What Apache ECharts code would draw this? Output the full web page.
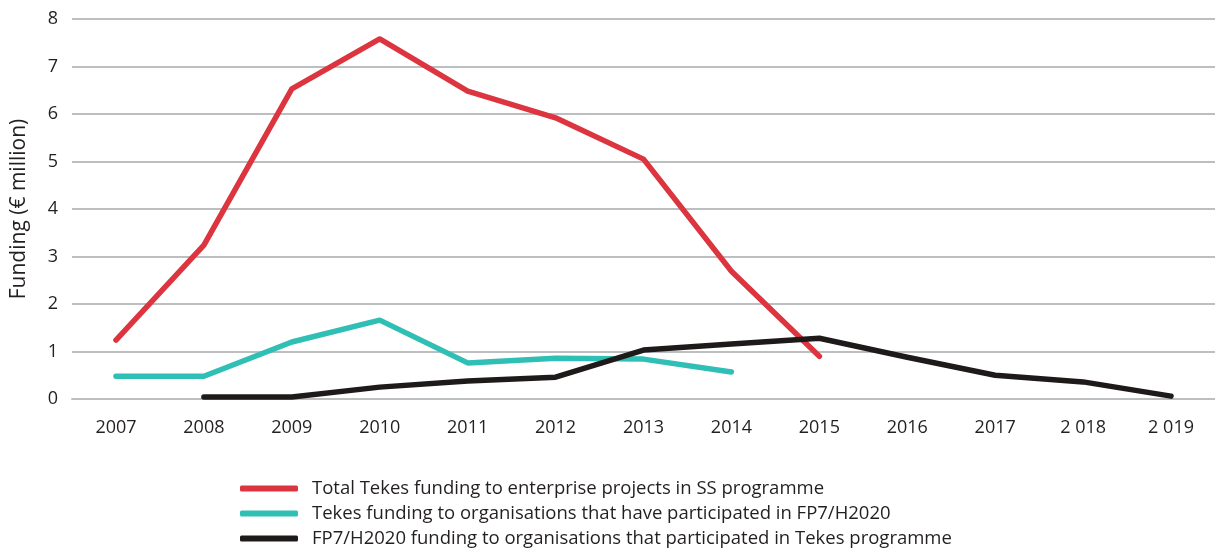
<!DOCTYPE html>
<html><head><meta charset="utf-8">
<script src="https://cdn.jsdelivr.net/npm/echarts@6/dist/echarts.min.js"></script>
<style>html,body{margin:0;padding:0;background:#fff}#c{width:1215px;height:553px}</style>
</head><body><div id="c"></div>
<script>
const categories = ['2007','2008','2009','2010','2011','2012','2013','2014','2015','2016','2017','2 018','2 019'];
const redName = 'Total Tekes funding to enterprise projects in SS programme';
const tealName = 'Tekes funding to organisations that have participated in FP7/H2020';
const blackName = 'FP7/H2020 funding to organisations that participated in Tekes programme';
const redValues = [1.24, 3.24, 6.53, 7.58, 6.48, 5.92, 5.05, 2.69, 0.9, null, null, null, null];
const tealValues = [0.48, 0.48, 1.2, 1.66, 0.76, 0.86, 0.84, 0.57, null, null, null, null, null];
const blackValues = [null, 0.04, 0.04, 0.25, 0.38, 0.46, 1.03, 1.16, 1.28, 0.88, 0.5, 0.36, 0.06];
const yTicks = [0,1,2,3,4,5,6,7,8];

const font = '"Open Sans", "Noto Sans", sans-serif';
const chart = echarts.init(document.getElementById('c'));
function mk(name, data, color){
  return {name, type:'line', data, symbol:'none', connectNulls:false,
    lineStyle:{color, width:5.5, cap:'round', join:'round'}, itemStyle:{color}};
}
chart.setOption({
  animation:false,
  grid:{left:72, right:-2, top:19, bottom:154, containLabel:false},
  legend:{orient:'vertical', left:240, top:479, height:90, padding:0, itemGap:6, itemWidth:58, itemHeight:6,
    icon:'roundRect',
    textStyle:{fontFamily:font, fontSize:18.5, color:'#231f20', padding:[0,0,0,9]},
    data:[redName, tealName, blackName]},
  xAxis:{type:'category', data:categories, boundaryGap:true,
    axisLine:{show:true, lineStyle:{color:'#bcbec0', width:2}},
    axisTick:{show:false},
    axisLabel:{fontFamily:font, fontSize:18, color:'#231f20', margin:20}},
  yAxis:{type:'value', min:0, max:8, interval:1,
    name:'Funding (€ million)', nameLocation:'middle', nameGap:42, nameRotate:90,
    nameTextStyle:{fontFamily:font, fontSize:21, color:'#231f20'},
    axisLine:{show:false}, axisTick:{show:false},
    axisLabel:{fontFamily:font, fontSize:18, color:'#231f20', margin:14,
      formatter:v=> yTicks.includes(v)? String(v):''},
    splitLine:{lineStyle:{color:'#bcbec0', width:2}}},
  series:[mk(redName, redValues, '#dc3540'), mk(tealName, tealValues, '#30bfb4'), mk(blackName, blackValues, '#1f1a1a')]
});
</script></body></html>
